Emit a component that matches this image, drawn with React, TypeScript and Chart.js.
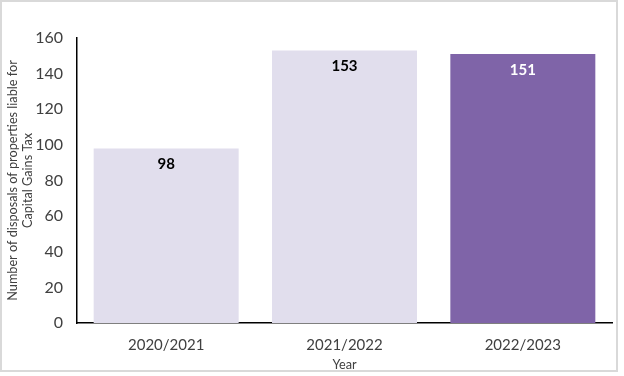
import React, { useEffect, useRef } from "react";
import { Chart, registerables } from "chart.js";

Chart.register(...registerables);

const categories = ["2020/2021", "2021/2022", "2022/2023"];
const values = [98, 153, 151];
const barColors = ["#E1DEED", "#E1DEED", "#7F64A8"];
const labelColors = ["#000000", "#000000", "#FFFFFF"];
const yTitle = ["Number of disposals of properties liable for", "Capital Gains Tax"];
const xTitle = "Year";

const FONT = "Lato, 'DejaVu Sans', sans-serif";

const valueLabels = {
  id: "valueLabels",
  afterDatasetsDraw(chart: any) {
    const ctx = chart.ctx;
    const meta = chart.getDatasetMeta(0);
    ctx.save();
    ctx.font = `bold 15px ${FONT}`;
    ctx.textAlign = "center";
    ctx.textBaseline = "middle";
    meta.data.forEach((bar: any, i: number) => {
      ctx.fillStyle = labelColors[i];
      ctx.fillText(String(values[i]), bar.x, bar.y + 16);
    });
    ctx.restore();
  },
};

export default function App() {
  const canvasRef = useRef<HTMLCanvasElement | null>(null);

  useEffect(() => {
    document.body.style.margin = "0";
    const canvas = canvasRef.current;
    if (!canvas) return;
    const chart = new Chart(canvas, {
      type: "bar",
      data: {
        labels: categories,
        datasets: [
          {
            data: values,
            backgroundColor: barColors,
            borderWidth: 0,
            barPercentage: 0.813,
            categoryPercentage: 1,
          },
        ],
      },
      options: {
        animation: false,
        responsive: false,
        maintainAspectRatio: false,
        events: [],
        layout: { padding: { top: 38, right: 12, bottom: 0, left: 0 } },
        plugins: {
          legend: { display: false },
          tooltip: { enabled: false },
          title: { display: false },
        },
        scales: {
          x: {
            grid: { display: false, drawTicks: false },
            border: { display: true, color: "#000000", width: 1.5 },
            ticks: {
              padding: 13,
              color: "#404040",
              font: { family: FONT, size: 15 },
            },
            title: {
              display: true,
              text: xTitle,
              color: "#404040",
              font: { family: FONT, size: 12.7 },
              padding: { top: 0, bottom: 3 },
            },
            afterFit(scale: any) {
              scale.height = 53;
            },
          },
          y: {
            min: 0,
            max: 160,
            grid: { display: false, drawTicks: false },
            border: { display: true, color: "#000000", width: 1.5 },
            ticks: {
              stepSize: 20,
              padding: 14,
              color: "#404040",
              font: { family: FONT, size: 16 },
            },
            title: {
              display: true,
              text: yTitle,
              color: "#404040",
              font: { family: FONT, size: 12.7, lineHeight: 1.18 },
              padding: { top: 5, bottom: 0 },
            },
            afterFit(scale: any) {
              scale.width = 77;
            },
          },
        },
      },
      plugins: [valueLabels],
    });
    return () => chart.destroy();
  }, []);

  return (
    <div style={{ position: "relative", width: 624, height: 376, background: "#ffffff" }}>
      <canvas ref={canvasRef} width={624} height={376} style={{ position: "absolute", left: 0, top: 0 }} />
      <div
        style={{
          position: "absolute",
          left: 0,
          top: 0,
          width: 618,
          height: 372,
          boxSizing: "border-box",
          border: "2px solid #D9D9D9",
          pointerEvents: "none",
        }}
      />
    </div>
  );
}
